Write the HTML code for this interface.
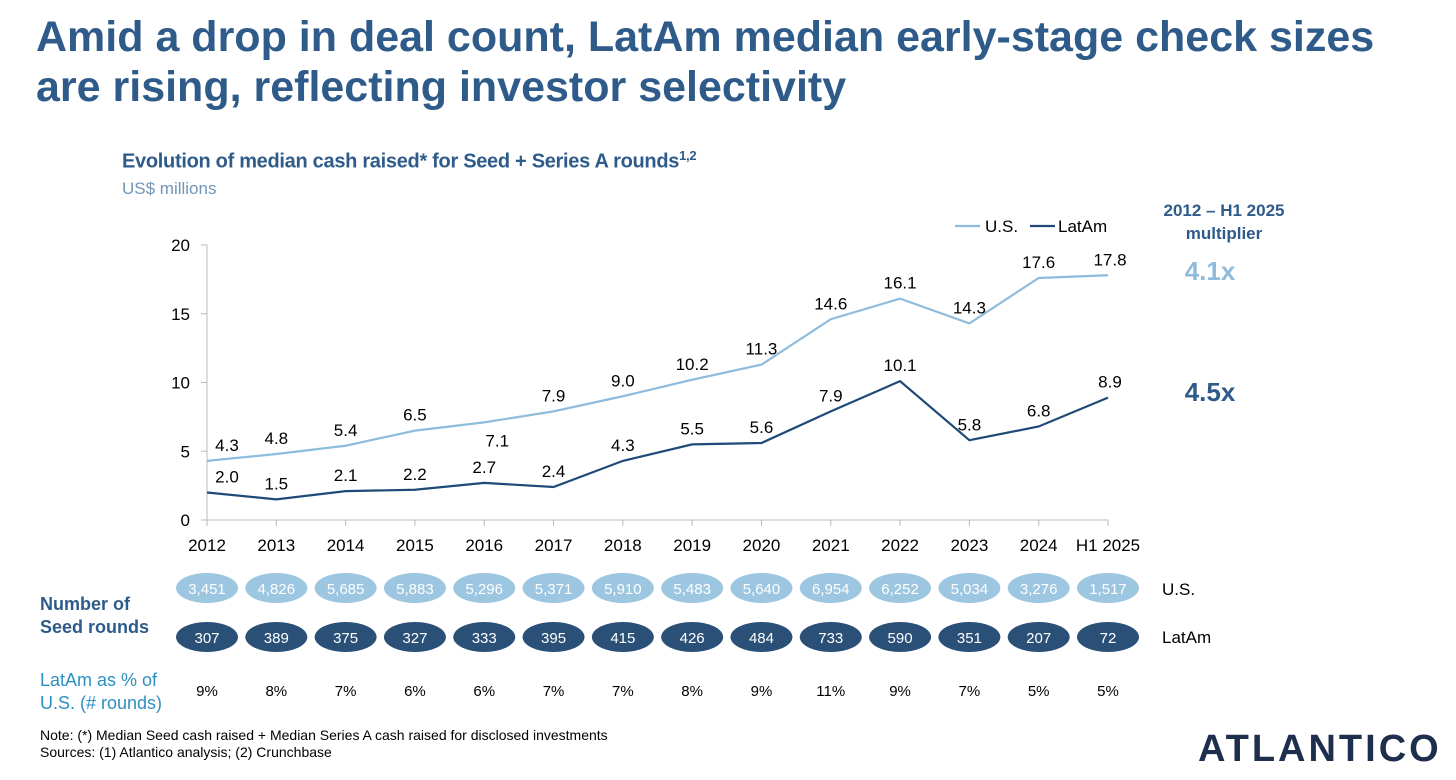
<!DOCTYPE html>
<html><head><meta charset="utf-8"><style>
body{margin:0;width:1456px;height:780px;background:#fff;font-family:"Liberation Sans",sans-serif;overflow:hidden;position:relative}
.t{position:absolute;margin:0}
</style></head><body>
<h1 class="t" style="left:36px;top:12px;font-size:43px;line-height:50px;font-weight:bold;color:#2e5b8a;letter-spacing:0px;white-space:nowrap">Amid a drop in deal count, LatAm median early-stage check sizes<br>are rising, reflecting investor selectivity</h1>
<div class="t" style="left:122px;top:148px;font-size:20px;font-weight:bold;color:#2e5b8a;letter-spacing:-0.3px">Evolution of median cash raised* for Seed + Series A rounds<sup style="font-size:13px">1,2</sup></div>
<div class="t" style="left:122px;top:179px;font-size:17px;color:#6f96b8">US$ millions</div>
<svg id="c" width="1456" height="780" style="position:absolute;left:0;top:0" font-family="Liberation Sans, sans-serif"></svg>
<div class="t" style="left:40px;top:727px;font-size:14px;line-height:17px;color:#000">Note: (*) Median Seed cash raised + Median Series A cash raised for disclosed investments<br>Sources: (1) Atlantico analysis; (2) Crunchbase</div>
<div class="t" style="left:1198px;top:728px;font-size:38px;font-weight:bold;color:#1e2f4d;letter-spacing:3px">ATLANTICO</div>
<script>
const years=["2012","2013","2014","2015","2016","2017","2018","2019","2020","2021","2022","2023","2024","H1 2025"];
const usVals=[4.3,4.8,5.4,6.5,7.1,7.9,9.0,10.2,11.3,14.6,16.1,14.3,17.6,17.8];
const latVals=[2.0,1.5,2.1,2.2,2.7,2.4,4.3,5.5,5.6,7.9,10.1,5.8,6.8,8.9];
const usRounds=["3,451","4,826","5,685","5,883","5,296","5,371","5,910","5,483","5,640","6,954","6,252","5,034","3,276","1,517"];
const latRounds=["307","389","375","327","333","395","415","426","484","733","590","351","207","72"];
const pcts=["9%","8%","7%","6%","6%","7%","7%","8%","9%","11%","9%","7%","5%","5%"];
const yTicks=[0,5,10,15,20];
const svg=document.getElementById('c');const NS='http://www.w3.org/2000/svg';
const X=i=>207+i*(1108-207)/(years.length-1);
const Y=v=>520-v*13.75;
function mk(tag,a,txt){const e=document.createElementNS(NS,tag);for(const k in a)e.setAttribute(k,a[k]);if(txt!==undefined)e.textContent=txt;svg.appendChild(e);return e;}
let e=mk('line',{x1:207,y1:245,x2:207,y2:520,stroke:'#bbb'});


e=mk('line',{x1:207,y1:520,x2:1108,y2:520,stroke:'#bbb'});


yTicks.forEach(v=>{mk('line',{x1:201,y1:Y(v),x2:207,y2:Y(v),stroke:'#bbb'});
e=mk('text',{x:190,y:Y(v)+6,'text-anchor':'end','font-size':17,fill:'#000'},v);

});
years.forEach((y,i)=>{mk('line',{x1:X(i),y1:520,x2:X(i),y2:526,stroke:'#bbb'});
e=mk('text',{x:X(i),y:551,'text-anchor':'middle','font-size':17,fill:'#000'},y);

});
function series(vals,col,name,below){
 e=mk('polyline',{points:vals.map((v,i)=>X(i)+','+Y(v)).join(' '),fill:'none',stroke:col,'stroke-width':2.2});
 
 
 vals.forEach((v,i)=>{let dx=i==0?20:(i==vals.length-1?2:0);const b=below.includes(i);if(b)dx=13;const dy=b?24:-10;
  e=mk('text',{x:X(i)+dx,y:Y(v)+dy,'text-anchor':'middle','font-size':17,fill:'#000'},v.toFixed(1));
  
  });
}
series(usVals,'#8fbcdc','us',[4]);
series(latVals,'#1f4a78','latam',[]);
mk('line',{x1:955,y1:226,x2:980,y2:226,stroke:'#8fbcdc','stroke-width':2.2});
e=mk('text',{x:985,y:232,'font-size':17,fill:'#000'},'U.S.');


mk('line',{x1:1030,y1:226,x2:1055,y2:226,stroke:'#1f4a78','stroke-width':2.2});
e=mk('text',{x:1058,y:232,'font-size':17,fill:'#000'},'LatAm');


e=mk('text',{x:1224,y:216,'text-anchor':'middle','font-size':17,'font-weight':'bold',fill:'#2e5b8a'},'2012 – H1 2025');


mk('text',{x:1224,y:239,'text-anchor':'middle','font-size':17,'font-weight':'bold',fill:'#2e5b8a'},'multiplier');
e=mk('text',{x:1210,y:280,'text-anchor':'middle','font-size':26,'font-weight':'bold',fill:'#8fbcdc'},'4.1x');


e=mk('text',{x:1210,y:401,'text-anchor':'middle','font-size':26,'font-weight':'bold',fill:'#2e5b8a'},'4.5x');


years.forEach((y,i)=>{
 e=mk('ellipse',{cx:X(i),cy:588,rx:31,ry:15,fill:'#9dc6e0'});
 
 
 mk('text',{x:X(i),y:594,'text-anchor':'middle','font-size':15,fill:'#fff'},usRounds[i]);
 e=mk('ellipse',{cx:X(i),cy:637,rx:31,ry:15,fill:'#2b5078'});
 
 
 mk('text',{x:X(i),y:643,'text-anchor':'middle','font-size':15,fill:'#fff'},latRounds[i]);
 e=mk('text',{x:X(i),y:696,'text-anchor':'middle','font-size':15,fill:'#000'},pcts[i]);
 
 
});
mk('text',{x:1162,y:595,'font-size':17,fill:'#000'},'U.S.');
mk('text',{x:1162,y:643,'font-size':17,fill:'#000'},'LatAm');
e=mk('text',{x:40,y:610,'font-size':18,'font-weight':'bold',fill:'#2e5b8a'},'Number of');


mk('text',{x:40,y:633,'font-size':18,'font-weight':'bold',fill:'#2e5b8a'},'Seed rounds');
e=mk('text',{x:40,y:686,'font-size':18,fill:'#2e8fc0'},'LatAm as % of');


mk('text',{x:40,y:709,'font-size':18,fill:'#2e8fc0'},'U.S. (# rounds)');
</script>
</body></html>
